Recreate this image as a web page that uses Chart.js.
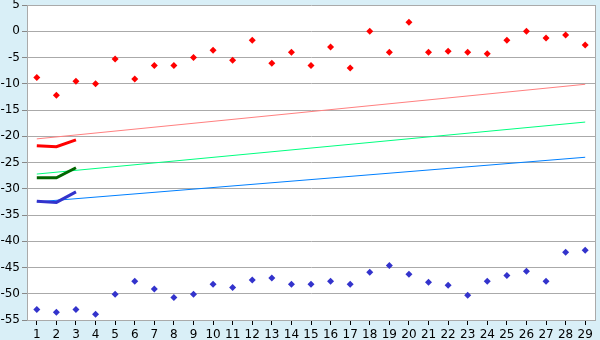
<!DOCTYPE html>
<html>
<head>
<meta charset="utf-8">
<script src="https://cdn.jsdelivr.net/npm/chart.js@4/dist/chart.umd.min.js"></script>
<style>
  body { margin: 0; background: #d9eff7; }
  canvas { display: block; }
</style>
</head>
<body>
<canvas id="chart" width="600" height="340"></canvas>
<script>
const categories = ['1','2','3','4','5','6','7','8','9','10','11','12','13','14','15','16','17','18','19','20','21','22','23','24','25','26','27','28','29'];

const redPoints = [-8.8, -12.2, -9.5, -10, -5.3, -9.1, -6.5, -6.5, -5, -3.6, -5.5, -1.7, -6.1, -4, -6.5, -3, -7, 0, -4, 1.7, -4, -3.8, -4, -4.3, -1.7, 0, -1.3, -0.7, -2.6];
const bluePoints = [-53, -53.5, -53, -53.9, -50.1, -47.6, -49.1, -50.7, -50.1, -48.2, -48.8, -47.4, -47, -48.2, -48.2, -47.6, -48.2, -45.9, -44.6, -46.3, -47.8, -48.4, -50.3, -47.6, -46.5, -45.7, -47.6, -42.1, -41.7];

// short thick lines over the first three categories
const redShort = [-21.8, -22, -20.7];
const greenShort = [-27.9, -27.9, -26];
const blueShort = [-32.4, -32.6, -30.6];

// thin trend lines, first and last category
const pinkTrend = [{ x: '1', y: -20.5 }, { x: '29', y: -10.1 }];
const greenTrend = [{ x: '1', y: -27.2 }, { x: '29', y: -17.3 }];
const blueTrend = [{ x: '1', y: -32.5 }, { x: '29', y: -24 }];

const yMin = -55, yMax = 5, yStep = 5;

const plotBg = {
  id: 'plotBg',
  beforeDraw(chart) {
    const { ctx, chartArea: a } = chart;
    ctx.save();
    ctx.fillStyle = '#ffffff';
    ctx.fillRect(a.left, a.top, a.right - a.left, a.bottom - a.top);
    ctx.restore();
  },
  afterDraw(chart) {
    const { ctx, chartArea: a } = chart;
    ctx.save();
    ctx.strokeStyle = '#aaaaaa';
    ctx.lineWidth = 1;
    ctx.beginPath();
    ctx.moveTo(Math.round(a.right) + 0.5, a.top);
    ctx.lineTo(Math.round(a.right) + 0.5, a.bottom);
    ctx.stroke();
    ctx.restore();
  }
};

function points(data, color) {
  return {
    data: data,
    showLine: false,
    pointStyle: 'rectRot',
    pointRadius: 3.5,
    pointBackgroundColor: color,
    pointBorderWidth: 0,
    borderColor: color
  };
}

function line(data, color, width) {
  return {
    data: data,
    borderColor: color,
    borderWidth: width,
    pointRadius: 0,
    tension: 0,
    spanGaps: true
  };
}

new Chart(document.getElementById('chart').getContext('2d'), {
  type: 'line',
  data: {
    labels: categories,
    datasets: [
      points(redPoints, '#ff0000'),
      points(bluePoints, '#3333cc'),
      line(redShort, '#ff0000', 3),
      line(greenShort, '#006600', 3),
      line(blueShort, '#3333cc', 3),
      line(pinkTrend, '#ff8080', 1),
      line(greenTrend, '#00ff80', 1),
      line(blueTrend, '#0080ff', 1)
    ]
  },
  options: {
    responsive: false,
    animation: false,
    layout: { padding: { top: 5, right: 5, left: 0, bottom: 0 } },
    plugins: { legend: { display: false }, tooltip: { enabled: false } },
    scales: {
      x: {
        offset: true,
        grid: { offset: false, drawOnChartArea: false, drawTicks: true, tickLength: 5, tickColor: '#000000' },
        border: { color: '#aaaaaa' },
        ticks: { color: '#000000', font: { family: 'DejaVu Sans', size: 12 }, padding: 3, maxRotation: 0, autoSkip: false },
        afterFit(scale) { scale.height = 20; }
      },
      y: {
        min: yMin,
        max: yMax,
        grid: { color: '#aaaaaa', tickLength: 5, tickColor: '#888888' },
        border: { color: '#aaaaaa' },
        ticks: { stepSize: yStep, color: '#000000', font: { family: 'DejaVu Sans', size: 12 }, padding: 2 },
        afterFit(scale) {
          scale.width = 27;
          scale.paddingTop = 0;
          scale.paddingBottom = 0;
        }
      }
    }
  },
  plugins: [plotBg]
});
</script>
</body>
</html>
